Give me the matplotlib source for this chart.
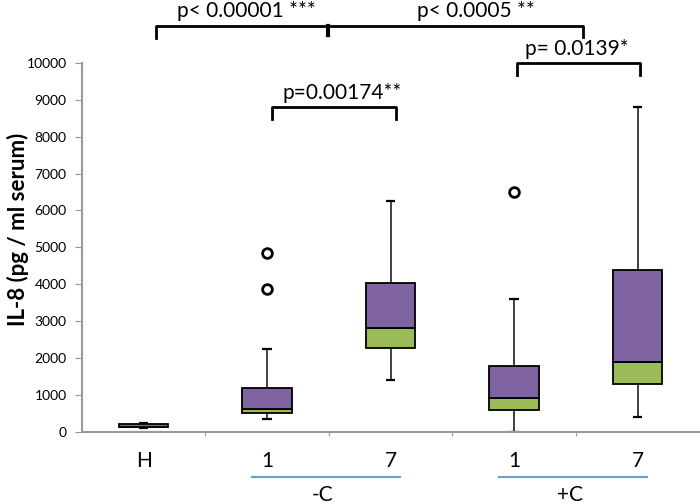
import numpy as np
import matplotlib
matplotlib.use("Agg")
import matplotlib.pyplot as plt

plt.rcParams['font.family'] = ['Lato', 'DejaVu Sans']

# groups on the x axis
labels = ["H", "1", "7", "1", "7"]
group_names = ["-C", "+C"]

# box statistics (pg / ml serum)
whisker_low = [100, 340, 1400, 0, 410]
q1 = [130, 520, 2280, 590, 1290]
median = [145, 620, 2830, 920, 1900]
q3 = [210, 1200, 4035, 1790, 4400]
whisker_high = [250, 2240, 6260, 3610, 8800]
outliers = [[], [4850, 3870], [], [6500], []]

# significance brackets: (x left, x right, y, text, text x, text y)
brackets = [
    (1.04, 2.04, 8790, "p=0.00174**", 1.61, 9020),
    (3.02, 4.02, 9990, "p= 0.0139*", 3.51, 10216),
]

purple = "#8064A2"
green = "#9BBB59"

fig = plt.figure(figsize=(7, 5.04), dpi=100)
ax = fig.add_axes([0.117, 0.1429, 0.882, 0.7325])

x = np.arange(len(labels))
w = 0.4
cap = 0.075

# whiskers
ax.vlines(x, whisker_low, q1, color="#333333", lw=1.3, zorder=1)
ax.vlines(x, q3, whisker_high, color="#333333", lw=1.3, zorder=1)
ax.hlines(whisker_low, x - cap / 2, x + cap / 2, color="black", lw=1.6, zorder=1)
ax.hlines(whisker_high, x - cap / 2, x + cap / 2, color="black", lw=1.6, zorder=1)

# two-colour boxes
ax.bar(x, np.array(median) - np.array(q1), bottom=q1, width=w,
       color=green, edgecolor="black", linewidth=1.3, zorder=2)
ax.bar(x, np.array(q3) - np.array(median), bottom=median, width=w,
       color=purple, edgecolor="black", linewidth=1.3, zorder=2)

# outliers
for i, pts in enumerate(outliers):
    if pts:
        ax.plot([x[i]] * len(pts), pts, "o", ms=7, mfc="white", mec="black",
                mew=2, zorder=3)

# brackets
for xl, xr, y, txt, tx, ty in brackets:
    ax.plot([xl, xl, xr, xr], [y - 320, y, y, y - 320], color="black",
            lw=2, clip_on=False)
    ax.text(tx, ty, txt, ha="center", va="baseline", fontsize=15, clip_on=False)

# big top bracket
ax.plot([0.1, 0.1, 3.56, 3.56], [10680, 11000, 11000, 10700], color="black",
        lw=2, clip_on=False)
ax.plot([1.49, 1.49], [11000, 10740], color="black", lw=3, clip_on=False)
ax.text(0.83, 11243, "p< 0.00001 ***", ha="center", va="baseline",
        fontsize=15, clip_on=False)
ax.text(2.69, 11243, "p< 0.0005 **", ha="center", va="baseline",
        fontsize=15, clip_on=False)

ax.set_xlim(-0.5, 4.5)
ax.set_ylim(0, 10000)
ax.set_yticks(np.arange(0, 10001, 1000))
ax.tick_params(axis="y", labelsize=10, length=5, color="#999999", pad=6)

# boundary ticks on x, labels at the centres
ax.set_xticks(np.arange(0.5, 4.5, 1.0))
ax.set_xticklabels([])
ax.tick_params(axis="x", length=3, color="#999999")
ax.set_xticks(x, minor=True)
ax.set_xticklabels(labels, minor=True, fontsize=15)
ax.tick_params(axis="x", which="minor", length=0, pad=14)

for s in ["top", "right"]:
    ax.spines[s].set_visible(False)
for s in ["left", "bottom"]:
    ax.spines[s].set_color("#999999")
    ax.spines[s].set_linewidth(1.5)

fig.text(0.026, 0.544, "IL-8 (pg / ml serum)", rotation=90, ha="center",
         va="center", fontsize=16, fontweight="bold")

# group underlines and names
for i, (a, b) in enumerate([(1, 2), (3, 4)]):
    ax.plot([a - 0.12, b + 0.08], [-1216, -1216], color="#6A9BD1", lw=1.5,
            clip_on=False)
    ax.text((a + b) / 2 - 0.05, -1700, group_names[i], ha="center",
            va="center", fontsize=15)

fig.savefig("out.png", dpi=100)
